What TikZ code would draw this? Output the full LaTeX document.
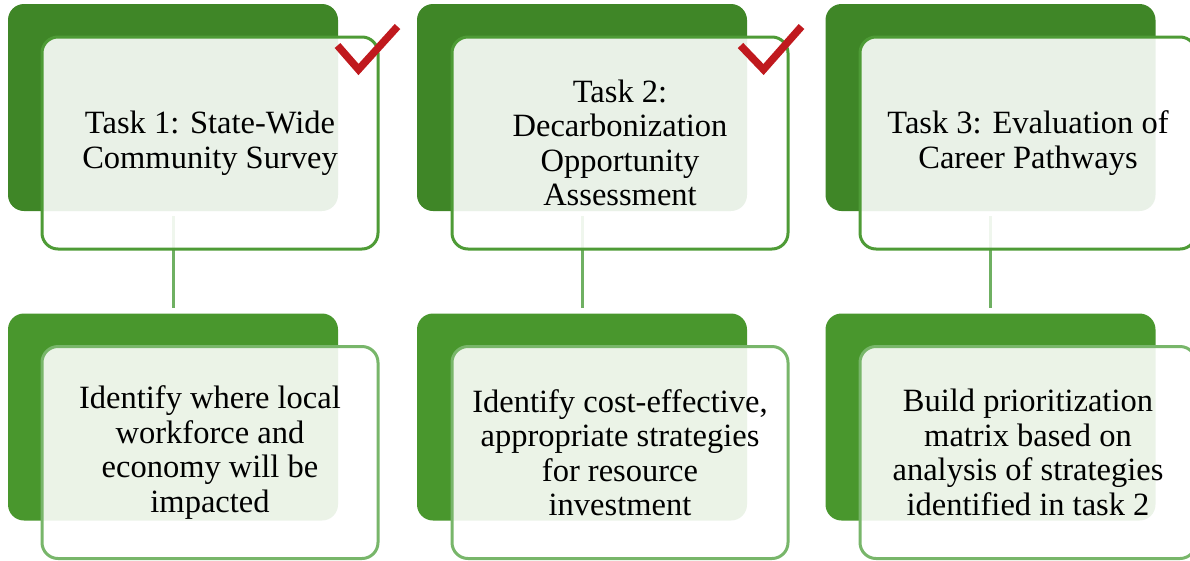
\documentclass[tikz,border=0pt]{standalone}
\usepackage{fontspec}
\setmainfont{Liberation Serif}
\usetikzlibrary{calc}
\definecolor{dkA}{HTML}{3F8627}
\definecolor{dkB}{HTML}{49972D}
\definecolor{brA}{HTML}{4E9B36}
\definecolor{brB}{HTML}{78B66A}
\definecolor{connC}{HTML}{6FB062}
\definecolor{chk}{HTML}{C0191E}
\tikzset{
  back/.style={rounded corners=16pt, minimum width=330pt, minimum height=207pt, inner sep=0pt},
  backA/.style={back, fill=dkA},
  backB/.style={back, fill=dkB},
  front/.style={rounded corners=16pt, minimum width=336pt, minimum height=212pt, line width=3pt,
    fill=white, fill opacity=0.89, text opacity=1, align=center, font=\fontsize{32.5}{34.5}\selectfont, text=black},
  frontA/.style={front, draw=brA},
  frontB/.style={front, draw=brB},
  conn/.style={draw=connC, line width=3pt, shorten <=5pt, shorten >=5pt},
  check/.style={draw=chk, line width=7.5pt, miter limit=10}
}
\begin{document}
\begin{tikzpicture}[x=1pt,y=-1pt]
\useasboundingbox (0,0) rectangle (1190,560);
\clip (0,0) rectangle (1190,560);
% back boxes
\node[backA] (d1) at (173,107.5) {};
\node[backA] (d2) at (582,107.5) {};
\node[backA] (d3) at (990.5,107.5) {};
\node[backB] (e1) at (173,417) {};
\node[backB] (e2) at (582,417) {};
\node[backB] (e3) at (990.5,417) {};
% connectors
\draw[conn] (d1.south) -- (e1.north);
\draw[conn] (d2.south) -- (e2.north);
\draw[conn] (d3.south) -- (e3.north);
% front boxes
\node[frontA] (f1) at (210,143) {Task 1: State-Wide\\Community Survey};
\node[frontA] (f2) at (620,143) {Task 2:\\Decarbonization\\Opportunity\\Assessment};
\node[frontA] (f3) at (1028,143) {Task 3: Evaluation of\\Career Pathways};
\node[frontB] (g1) at (210,452.5) {Identify where local\\workforce and\\economy will be\\impacted};
\node[frontB] (g2) at (620,452.5) {Identify cost-effective,\\appropriate strategies\\for resource\\investment};
\node[frontB] (g3) at (1028,452.5) {Build prioritization\\matrix based on\\analysis of strategies\\identified in task 2};
% check marks
\draw[check] ($(f1.north east)+(-42,10)$) -- ($(f1.north east)+(-21,34)$) -- ($(f1.north east)+(18,-9)$);
\draw[check] ($(f2.north east)+(-49,10)$) -- ($(f2.north east)+(-26,34)$) -- ($(f2.north east)+(12,-9)$);
\end{tikzpicture}
\end{document}
